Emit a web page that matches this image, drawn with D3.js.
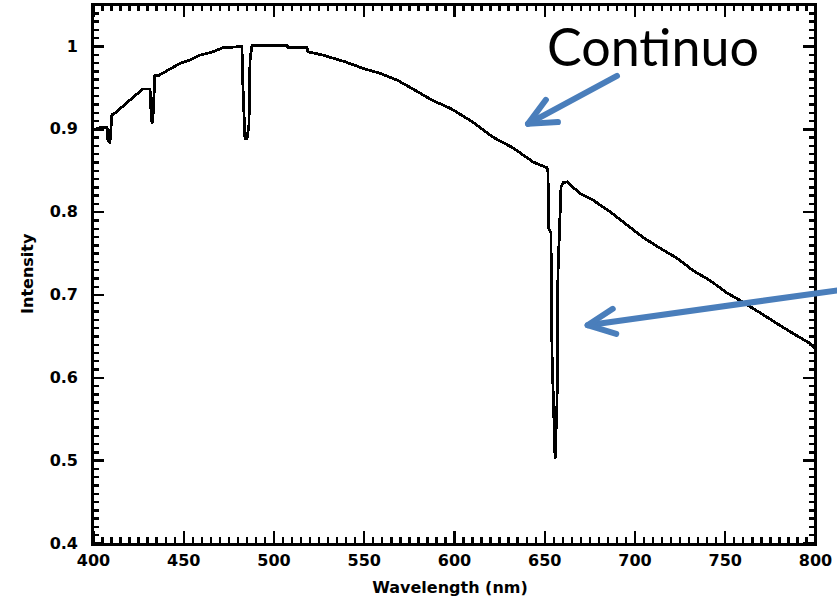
<!DOCTYPE html>
<html>
<head>
<meta charset="utf-8">
<script src="https://cdn.jsdelivr.net/npm/d3@7"></script>
<style>
  html, body { margin: 0; padding: 0; background: #fff; }
  svg { display: block; }
  .tick text { font-family: "DejaVu Sans", sans-serif; font-size: 16px; font-weight: bold; fill: #000; }
</style>
</head>
<body>
<svg id="chart" width="837" height="599"></svg>
<script>
// Spectrum: wavelength (nm) and normalised intensity
const wavelength = [
  400.0, 405.0, 407.8, 408.3, 409.4, 410.0, 410.5, 412.2, 422.2, 427.7,
  431.6, 432.1, 432.7, 433.2, 434.3, 436.0, 448.2, 453.7, 459.3, 466.5,
  472.0, 479.8, 482.5, 483.1, 484.2, 485.3, 486.4, 487.0, 488.1, 507.5,
  508.0, 518.6, 519.1, 527.4, 539.6, 549.6, 559.0, 568.4, 577.3, 588.4,
  596.7, 599.4, 610.5, 621.6, 632.7, 643.8, 651.5, 652.1, 652.3, 653.7,
  654.3, 656.0, 657.1, 657.6, 659.3, 660.4, 662.6, 669.8, 677.0, 686.4,
  695.8, 704.7, 714.1, 723.5, 732.4, 741.8, 751.2, 758.4, 769.5, 778.9,
  787.8, 797.2, 800.0
];
const intensity = [
  0.899, 0.902, 0.902, 0.886, 0.884, 0.902, 0.917, 0.919, 0.938, 0.948,
  0.948, 0.923, 0.906, 0.913, 0.964, 0.964, 0.979, 0.983, 0.989, 0.993,
  0.998, 0.999, 0.999, 0.949, 0.888, 0.888, 0.905, 0.983, 1.001, 1.001,
  0.998, 0.998, 0.993, 0.989, 0.981, 0.973, 0.967, 0.959, 0.948, 0.934,
  0.926, 0.923, 0.908, 0.890, 0.877, 0.860, 0.853, 0.847, 0.780, 0.775,
  0.629, 0.502, 0.570, 0.726, 0.830, 0.835, 0.836, 0.822, 0.814, 0.800,
  0.784, 0.769, 0.756, 0.744, 0.729, 0.717, 0.702, 0.693, 0.678, 0.665,
  0.653, 0.641, 0.635
];

const xTicks = [400, 450, 500, 550, 600, 650, 700, 750, 800];
const yTicks = [0.4, 0.5, 0.6, 0.7, 0.8, 0.9, 1.0];
const yTickLabels = ["0.4", "0.5", "0.6", "0.7", "0.8", "0.9", "1"];

// Annotation arrows: [start, tip] in data units
const arrowContinuum = [[690.3, 0.964], [641.0, 0.906]];
const arrowLine = [[812.5, 0.705], [674.0, 0.663]];

const svg = d3.select("#chart");
const plot = { left: 93, right: 815, top: 4.6, bottom: 543 };

const x = d3.scaleLinear().domain([400, 800]).range([plot.left, plot.right]);
const y = d3.scaleLinear().domain([0.4, 1.05]).range([plot.bottom, plot.top]);

const xMinor = d3.range(400, 800.1, 5).filter(v => v % 50 !== 0);
const yMinor = d3.range(40, 105).map(v => v / 100).filter(v => Math.round(v * 100) % 10 !== 0);

function styleAxis(g) {
  g.select(".domain").remove();
  g.selectAll(".tick line").attr("stroke", "#000").attr("stroke-width", 2.4)
    .attr("shape-rendering", "crispEdges");
}

// bottom axis
svg.append("g").attr("transform", `translate(0,${plot.bottom})`)
  .call(d3.axisBottom(x).tickValues(xMinor).tickSize(-6).tickFormat(""))
  .call(styleAxis);
svg.append("g").attr("transform", `translate(0,${plot.bottom})`)
  .call(d3.axisBottom(x).tickValues(xTicks).tickSize(-12).tickPadding(12).tickFormat(d3.format("d")))
  .call(styleAxis);
// top axis
svg.append("g").attr("transform", `translate(0,${plot.top})`)
  .call(d3.axisTop(x).tickValues(xMinor).tickSize(-6).tickFormat(""))
  .call(styleAxis);
svg.append("g").attr("transform", `translate(0,${plot.top})`)
  .call(d3.axisTop(x).tickValues(xTicks).tickSize(-12).tickFormat(""))
  .call(styleAxis);
// left axis
svg.append("g").attr("transform", `translate(${plot.left},0)`)
  .call(d3.axisLeft(y).tickValues(yMinor).tickSize(-6).tickFormat(""))
  .call(styleAxis);
svg.append("g").attr("transform", `translate(${plot.left},0)`)
  .call(d3.axisLeft(y).tickValues(yTicks).tickSize(-11).tickPadding(15)
    .tickFormat((d, i) => yTickLabels[i]))
  .call(styleAxis);
// right axis
svg.append("g").attr("transform", `translate(${plot.right},0)`)
  .call(d3.axisRight(y).tickValues(yMinor).tickSize(-6).tickFormat(""))
  .call(styleAxis);
svg.append("g").attr("transform", `translate(${plot.right},0)`)
  .call(d3.axisRight(y).tickValues(yTicks).tickSize(-12).tickFormat(""))
  .call(styleAxis);

// frame
svg.append("rect")
  .attr("x", plot.left - 1).attr("y", plot.top)
  .attr("width", plot.right - plot.left + 1).attr("height", plot.bottom - plot.top + 1)
  .attr("fill", "none").attr("stroke", "#000").attr("stroke-width", 3)
  .attr("shape-rendering", "crispEdges");

// spectrum
const pts = wavelength.map((w, i) => [w, intensity[i]]);
svg.append("path")
  .datum(pts)
  .attr("fill", "none").attr("stroke", "#000").attr("stroke-width", 2.8)
  .attr("stroke-linejoin", "miter")
  .attr("shape-rendering", "crispEdges")
  .attr("d", d3.line().x(d => x(d[0])).y(d => y(d[1])));

// axis titles
svg.append("text")
  .attr("x", (plot.left + plot.right) / 2 - 4).attr("y", 593)
  .attr("text-anchor", "middle")
  .attr("font-family", "DejaVu Sans, sans-serif").attr("font-size", 16).attr("font-weight", "bold")
  .text("Wavelength (nm)");
svg.append("text")
  .attr("transform", `translate(33,${(plot.top + plot.bottom) / 2}) rotate(-90)`)
  .attr("text-anchor", "middle")
  .attr("font-family", "DejaVu Sans, sans-serif").attr("font-size", 16).attr("font-weight", "bold")
  .text("Intensity");

// annotation
svg.append("text")
  .attr("x", 547).attr("y", 66)
  .attr("font-family", "Lato, 'Open Sans', sans-serif").attr("font-size", 52)
  .attr("fill", "#000")
  .text("Continuo");

const arrowColor = "#4a7ebb";
function drawArrow(a) {
  const p0 = [x(a[0][0]), y(a[0][1])];
  const p1 = [x(a[1][0]), y(a[1][1])];
  const ang = Math.atan2(p0[1] - p1[1], p0[0] - p1[0]);
  const len = 30, spread = 25 * Math.PI / 180;
  const h1 = [p1[0] + len * Math.cos(ang + spread), p1[1] + len * Math.sin(ang + spread)];
  const h2 = [p1[0] + len * Math.cos(ang - spread), p1[1] + len * Math.sin(ang - spread)];
  const g = svg.append("g").attr("fill", "none").attr("stroke", arrowColor)
    .attr("stroke-width", 6).attr("stroke-linecap", "round").attr("stroke-linejoin", "round");
  g.append("path").attr("d", d3.line()([p0, p1]));
  g.append("path").attr("d", d3.line()([h1, p1, h2]));
}
drawArrow(arrowContinuum);
drawArrow(arrowLine);
</script>
</body>
</html>
